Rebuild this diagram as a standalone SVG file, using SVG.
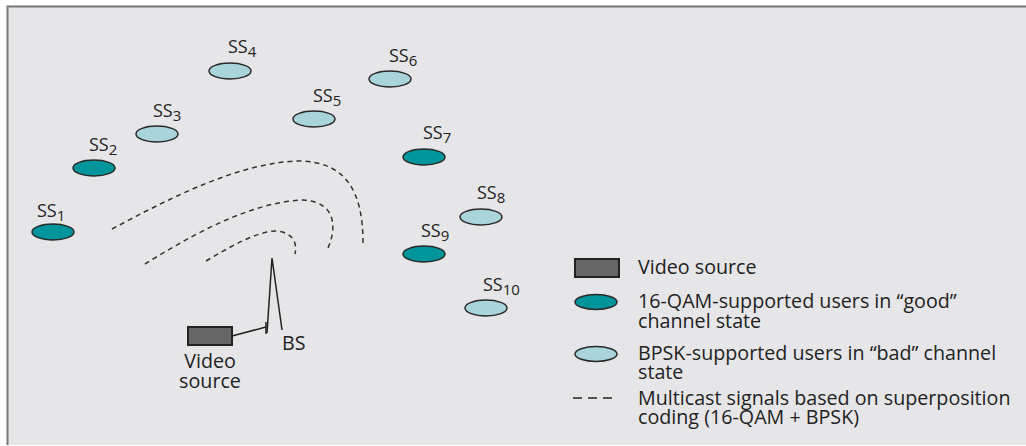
<svg xmlns="http://www.w3.org/2000/svg" width="1026" height="446" viewBox="0 0 1026 446">
  <style>
    text { font-family: "Open Sans", "Liberation Sans", sans-serif; fill: #222; font-size: 19.7px; }
    .ss { font-size: 18px; }
    .sub { font-size: 15px; }
    .good { fill: #00959a; stroke: #2a2a2a; stroke-width: 1.5; }
    .bad { fill: #a9d4dc; stroke: #2a2a2a; stroke-width: 1.5; }
    .src { fill: #666; stroke: #222; stroke-width: 2; }
    .wave { fill: none; stroke: #333; stroke-width: 1.5; stroke-dasharray: 5 4; }
    .wire { fill: none; stroke: #222; stroke-width: 1.5; }
  </style>

  <!-- panel -->
  <rect x="0" y="0" width="1026" height="446" fill="#fff"/>
  <rect x="7" y="6" width="1019" height="439" fill="#e6e6e8"/>
  <path d="M7.5 445 V6.5 H1026" fill="none" stroke="#777" stroke-width="2"/>

  <!-- subscriber stations -->
  <g id="ss1"><ellipse class="good" cx="53" cy="232" rx="21" ry="8"/><text class="ss" x="37" y="217">SS<tspan class="sub" dy="4">1</tspan></text></g>
  <g id="ss2"><ellipse class="good" cx="94" cy="168" rx="21" ry="8"/><text class="ss" x="89" y="151">SS<tspan class="sub" dy="4">2</tspan></text></g>
  <g id="ss3"><ellipse class="bad" cx="157" cy="134" rx="21" ry="8"/><text class="ss" x="153" y="117">SS<tspan class="sub" dy="4">3</tspan></text></g>
  <g id="ss4"><ellipse class="bad" cx="230" cy="71" rx="21" ry="8"/><text class="ss" x="228" y="53">SS<tspan class="sub" dy="4">4</tspan></text></g>
  <g id="ss5"><ellipse class="bad" cx="314" cy="119" rx="21" ry="8"/><text class="ss" x="313" y="102">SS<tspan class="sub" dy="4">5</tspan></text></g>
  <g id="ss6"><ellipse class="bad" cx="390" cy="79" rx="21" ry="8"/><text class="ss" x="389" y="62">SS<tspan class="sub" dy="4">6</tspan></text></g>
  <g id="ss7"><ellipse class="good" cx="424" cy="157" rx="21" ry="8"/><text class="ss" x="423" y="139">SS<tspan class="sub" dy="4">7</tspan></text></g>
  <g id="ss8"><ellipse class="bad" cx="481" cy="217" rx="21" ry="8"/><text class="ss" x="477" y="199">SS<tspan class="sub" dy="4">8</tspan></text></g>
  <g id="ss9"><ellipse class="good" cx="424" cy="254" rx="21" ry="8"/><text class="ss" x="421" y="237">SS<tspan class="sub" dy="4">9</tspan></text></g>
  <g id="ss10"><ellipse class="bad" cx="486" cy="308" rx="21" ry="8"/><text class="ss" x="483" y="291">SS<tspan class="sub" dy="4">10</tspan></text></g>

  <!-- base station -->
  <g id="bs">
    <path class="wire" d="M267 333 L272 258 L282 330"/>
    <path class="wire" d="M266 322 V334"/>
    <text x="282" y="350">BS</text>
  </g>

  <!-- video source -->
  <g id="video-source">
    <rect class="src" x="188" y="327" width="44" height="18"/>
    <text x="210" y="368" text-anchor="middle">Video</text>
    <text x="210" y="388" text-anchor="middle">source</text>
  </g>

  <!-- connectors: source link and multicast wavefronts -->
  <g id="connectors">
    <path class="wire" d="M232 336 L266 327"/>
    <path class="wave" d="M112 229 C170 198 240 162 300 161 C345 162 363 190 363 243"/>
    <path class="wave" d="M145 264 C190 236 250 202 303 200 C338 202 336 230 328 248"/>
    <path class="wave" d="M206 261 C230 247 255 232 275 231 C295 232 297 245 295 254"/>
  </g>

  <!-- legend -->
  <g id="legend">
    <rect class="src" x="575" y="259" width="44" height="18"/>
    <text x="638" y="274">Video source</text>
    <ellipse class="good" cx="596" cy="302" rx="21" ry="7.5"/>
    <text x="638" y="308">16-QAM-supported users in “good”</text>
    <text x="638" y="328">channel state</text>
    <ellipse class="bad" cx="596" cy="354" rx="21" ry="7.5"/>
    <text x="638" y="360">BPSK-supported users in “bad” channel</text>
    <text x="638" y="379">state</text>
    <path d="M573 398 H614" fill="none" stroke="#222" stroke-width="1.5" stroke-dasharray="9 6"/>
    <text x="638" y="405">Multicast signals based on superposition</text>
    <text x="638" y="424">coding (16-QAM + BPSK)</text>
  </g>
</svg>
